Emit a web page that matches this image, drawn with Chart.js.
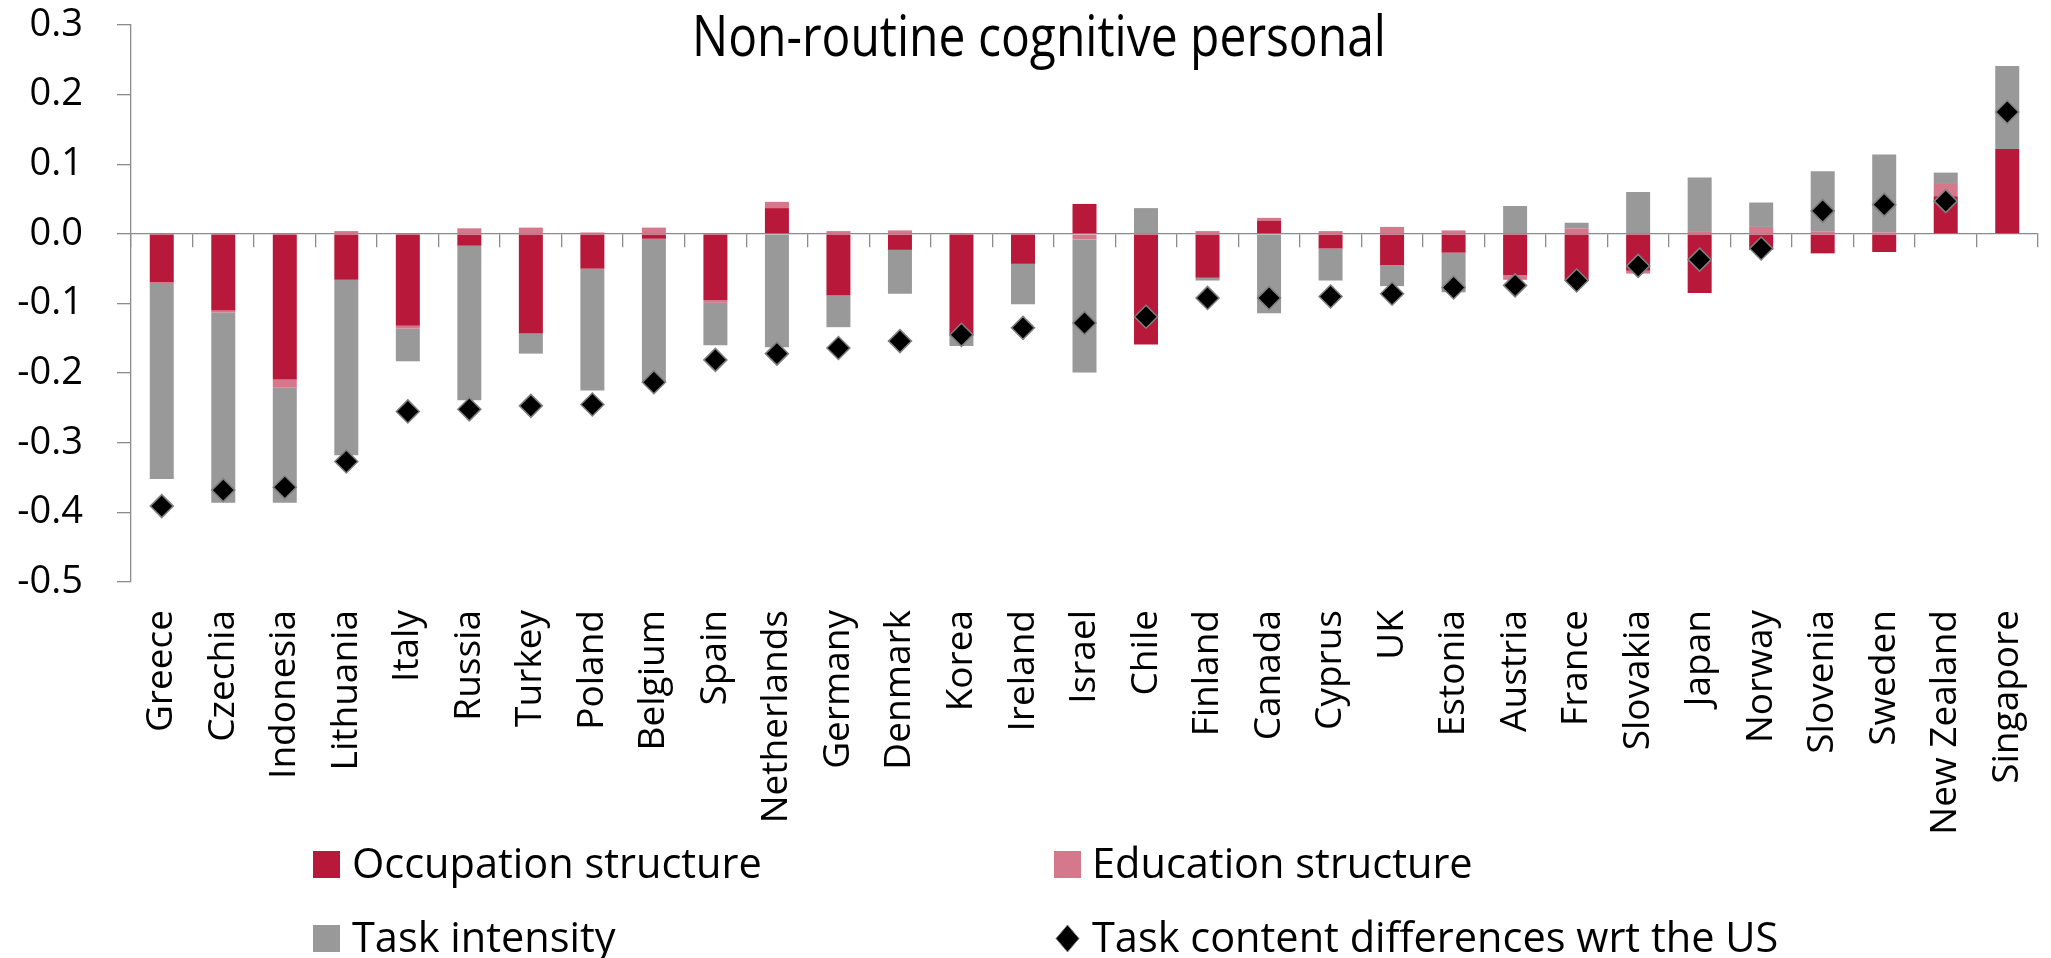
<!DOCTYPE html>
<html>
<head>
<meta charset="utf-8">
<script src="https://cdn.jsdelivr.net/npm/chart.js@4.4.1/dist/chart.umd.min.js"></script>
<style>
html, body { margin: 0; padding: 0; background: #fff; }
#wrap { position: relative; width: 2051px; height: 958px; font-family: "Open Sans", sans-serif; }
#chart { position: absolute; left: 0; top: 0; }
#title { position: absolute; left: 0; width: 2078px; top: 6px; text-align: center; font-size: 48px; line-height: 48px; color: #000; transform: scaleY(1.18); transform-origin: top; }
.lg-text { position: absolute; font-size: 41.5px; line-height: 41.5px; color: #000; white-space: nowrap; }
.lg-mark { position: absolute; }
</style>
</head>
<body>
<div id="wrap">
<canvas id="chart" width="2051" height="958"></canvas>
<div id="title">Non-routine cognitive personal</div>
<div id="legend"></div>
</div>
<script>
const countries = ["Greece","Czechia","Indonesia","Lithuania","Italy","Russia","Turkey","Poland","Belgium","Spain",
"Netherlands","Germany","Denmark","Korea","Ireland","Israel","Chile","Finland","Canada","Cyprus",
"UK","Estonia","Austria","France","Slovakia","Japan","Norway","Slovenia","Sweden","New Zealand","Singapore"];

const occupation = [-0.069,-0.110,-0.209,-0.066,-0.132,-0.017,-0.143,-0.050,-0.007,-0.095,
0.037,-0.088,-0.023,-0.146,-0.043,0.043,-0.159,-0.063,0.019,-0.021,
-0.045,-0.027,-0.059,-0.067,-0.053,-0.085,-0.023,-0.028,-0.026,0.054,0.122];

const education = [-0.003,-0.003,-0.012,0.004,-0.004,0.008,0.009,0.002,0.009,-0.004,
0.009,0.004,0.005,0,0,-0.008,0,0.004,0.004,0.004,
0.010,0.005,-0.007,0.008,-0.004,0.004,0.010,0.003,0.002,0.019,0];

const taskIntensity = [-0.280,-0.273,-0.165,-0.252,-0.047,-0.222,-0.029,-0.175,-0.207,-0.061,
-0.163,-0.046,-0.063,-0.015,-0.058,-0.191,0.037,-0.004,-0.114,-0.046,
-0.030,-0.057,0.040,0.008,0.060,0.077,0.035,0.087,0.112,0.015,0.119];

const taskContent = [-0.391,-0.368,-0.364,-0.327,-0.255,-0.252,-0.247,-0.245,-0.213,-0.181,
-0.172,-0.164,-0.154,-0.145,-0.135,-0.128,-0.119,-0.092,-0.092,-0.090,
-0.086,-0.077,-0.074,-0.067,-0.046,-0.037,-0.021,0.033,0.042,0.047,0.175];

const yMin = -0.5;
const yMax = 0.3;
const yStep = 0.1;

const RED = "#B81839";
const PINK = "#D6788B";
const GRAY = "#999999";
const AXIS = "#8c8c8c";

// keep the plot box where the reference has it
function noPad(s) {
  s.paddingTop = 0;
  s.paddingBottom = 0;
  s.paddingLeft = 0;
  s.paddingRight = 0;
}

const chart = new Chart(document.getElementById("chart"), {
  type: "bar",
  data: {
    labels: countries,
    datasets: [
      { label: "Occupation structure", data: occupation, backgroundColor: RED, stack: "s" },
      { label: "Education structure", data: education, backgroundColor: PINK, stack: "s" },
      { label: "Task intensity", data: taskIntensity, backgroundColor: GRAY, stack: "s" },
      {
        type: "line", label: "Task content differences wrt the US", data: taskContent,
        showLine: false, stack: "t", order: -1,
        pointStyle: "rectRot", pointRadius: 11.5, pointHoverRadius: 11.5,
        pointBackgroundColor: "#000", pointBorderColor: "#808080", pointBorderWidth: 1.5,
        backgroundColor: "#000", borderColor: "#808080"
      }
    ]
  },
  options: {
    responsive: false,
    animation: false,
    devicePixelRatio: 1,
    layout: { padding: { top: 25, right: 6, left: 0, bottom: 0 } },
    datasets: { bar: { barPercentage: 0.39, categoryPercentage: 1 } },
    plugins: { legend: { display: false }, title: { display: false }, tooltip: { enabled: false } },
    scales: {
      x: {
        type: "category", position: { y: 0 }, offset: true,
        grid: { offset: true, drawOnChartArea: false, tickLength: 13, color: AXIS, lineWidth: 1.3 },
        border: { color: AXIS, width: 1.3 },
        ticks: { display: false },
        afterFit: noPad
      },
      x2: {
        type: "category", labels: countries, position: "bottom", offset: true,
        grid: { display: false, drawTicks: false },
        border: { display: false },
        ticks: { autoSkip: false, maxRotation: 90, minRotation: 90, padding: 28, color: "#000",
          font: { family: "Open Sans", size: 37 } },
        afterFit(s) { s.height = 376; noPad(s); }
      },
      y: {
        stacked: true, min: yMin, max: yMax,
        ticks: { stepSize: yStep, padding: 34, color: "#000", font: { family: "Open Sans", size: 38 },
          callback: v => (Math.abs(v) < 1e-9 ? 0 : v).toFixed(1) },
        grid: { drawOnChartArea: false, tickLength: 14, color: AXIS, lineWidth: 1.3 },
        border: { color: AXIS, width: 1.3 },
        afterFit(s) { s.width = 131; noPad(s); }
      }
    }
  }
});

// html legend, two columns
const legendBox = document.getElementById("legend");
const legendCols = [313, 1054];
const legendRows = [851, 925];
chart.data.datasets.forEach((ds, i) => {
  const left = legendCols[i % 2];
  const top = legendRows[Math.floor(i / 2)];
  let mark;
  if (ds.type === "line") {
    mark = document.createElementNS("http://www.w3.org/2000/svg", "svg");
    mark.setAttribute("width", "25");
    mark.setAttribute("height", "29");
    mark.innerHTML = '<polygon points="12.5,1 24,14.5 12.5,28 1,14.5" fill="#000" stroke="#808080" stroke-width="1"/>';
    mark.setAttribute("class", "lg-mark");
    mark.style.left = (left + 1) + "px";
    mark.style.top = (top - 1) + "px";
  } else {
    mark = document.createElement("div");
    mark.className = "lg-mark";
    mark.style.left = left + "px";
    mark.style.top = top + "px";
    mark.style.width = "27px";
    mark.style.height = "27px";
    mark.style.background = ds.backgroundColor;
  }
  legendBox.appendChild(mark);
  const txt = document.createElement("div");
  txt.className = "lg-text";
  txt.textContent = ds.label;
  txt.style.left = (i % 2 ? 1092 : 352) + "px";
  txt.style.top = (top - 9) + "px";
  legendBox.appendChild(txt);
});
</script>
</body>
</html>
